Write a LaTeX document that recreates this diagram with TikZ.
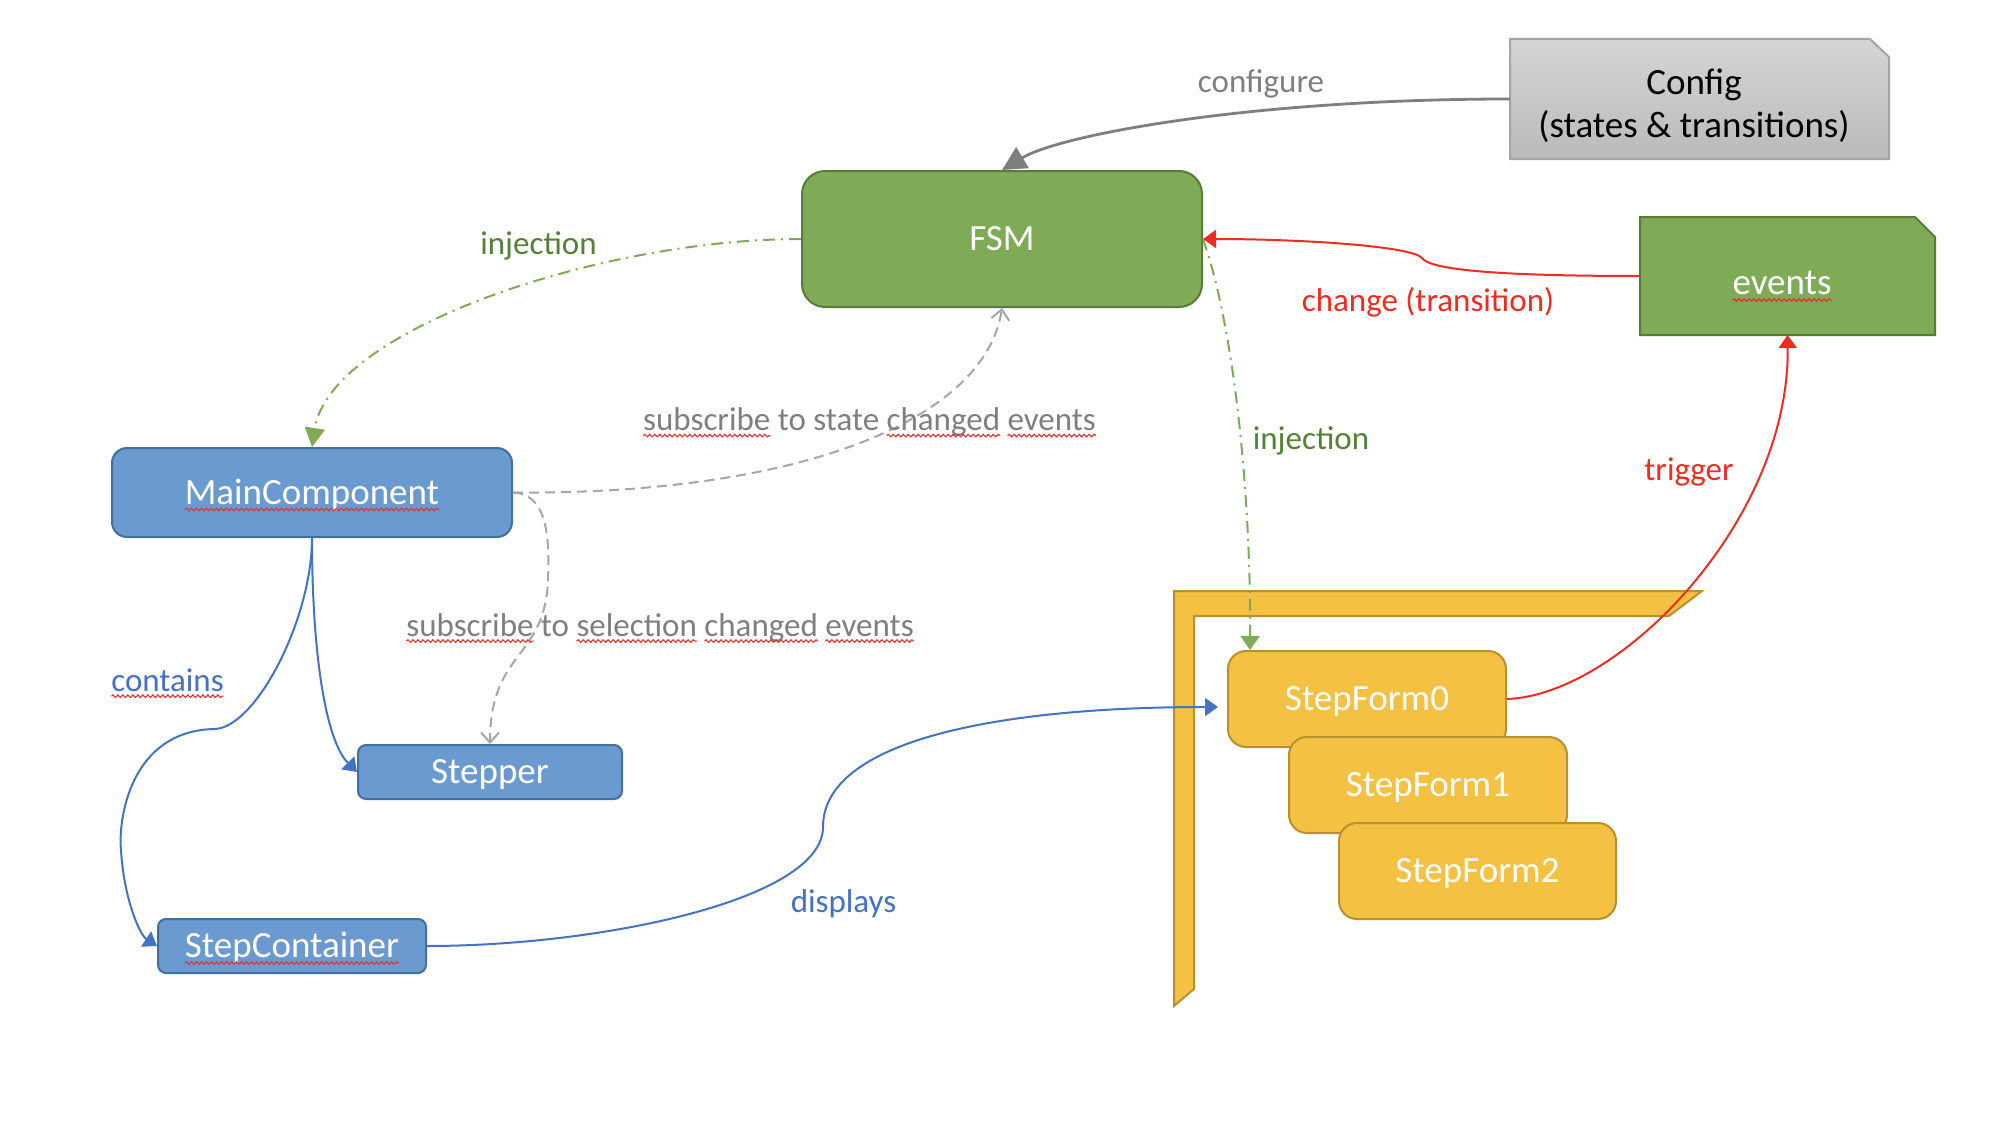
\documentclass[tikz,border=0pt]{standalone}
\usepackage{fontspec}
\setmainfont{Carlito}
\usetikzlibrary{arrows.meta,decorations.pathmorphing}
\definecolor{cgreen}{HTML}{7FAA56}
\definecolor{cgreenb}{HTML}{587D36}
\definecolor{cgreent}{HTML}{548235}
\definecolor{cblue}{HTML}{6A9AD0}
\definecolor{cblueb}{HTML}{44709F}
\definecolor{cbluet}{HTML}{4472C4}
\definecolor{cyel}{HTML}{F5C143}
\definecolor{cyelb}{HTML}{B8902D}
\definecolor{cgrayt}{HTML}{7F7F7F}
\definecolor{cgrayd}{HTML}{A6A6A6}
\definecolor{cfgtop}{HTML}{D5D5D5}
\definecolor{cfgbot}{HTML}{BABABA}
\definecolor{cfgb}{HTML}{A5A5A5}
\definecolor{cred}{HTML}{EE2D20}
\definecolor{csq}{HTML}{E8302A}
\newcommand\boxfont{\fontsize{37}{43}\selectfont}
\newcommand\lblfont{\fontsize{33}{40}\selectfont}
\tikzset{
  sqline/.style={draw=csq, solid, sharp corners, line width=1.1pt, decorate,
    decoration={snake, amplitude=1.3pt, segment length=5pt}},
}
\newcommand\sqw[1]{\tikz[baseline=(sqw.base)]{\node[inner sep=0pt,outer sep=0pt,minimum width=0pt,minimum height=0pt,sharp corners,anchor=base,draw=none,fill=none](sqw){#1};\draw[overlay,sqline]([yshift=-0.15em]sqw.base west)--([yshift=-0.15em]sqw.base east);}}
\begin{document}
\begin{tikzpicture}[x=1pt,y=-1pt,
  gbox/.style={draw=cgreenb, fill=cgreen, line width=2pt, text=white, font=\boxfont, inner sep=0pt, text height=30pt, text depth=7pt},
  bbox/.style={draw=cblueb, fill=cblue, line width=2pt, text=white, font=\boxfont, inner sep=0pt, text height=30pt, text depth=7pt},
  ybox/.style={draw=cyelb, fill=cyel, line width=2pt, text=white, font=\boxfont, inner sep=0pt, text height=30pt, text depth=7pt},
  plainbox/.style={inner sep=0pt, outer sep=0pt},
  lbl/.style={font=\lblfont, inner sep=0pt},
  cfgline/.style={draw=cgrayt, line width=2.8pt, -{Triangle[length=24pt,width=24pt]}},
  injline/.style={draw=cgreen, line width=2pt, dash pattern=on 12pt off 6pt on 2pt off 6pt, -{Triangle[length=14pt,width=19pt]}},
  subline/.style={draw=cgrayd, line width=2pt, dash pattern=on 10pt off 6pt, -{Straight Barb[length=10pt,width=18pt]}},
  blueline/.style={draw=cbluet, line width=2pt, -{Triangle[length=13pt,width=18pt]}},
  redline/.style={draw=cred, line width=2pt, -{Triangle[length=13pt,width=18pt]}},
]
\path[use as bounding box, fill=white] (0,0) rectangle (1998,1124);

% Config (cut corner)
\path[draw=cfgb, line width=2pt, top color=cfgtop, bottom color=cfgbot]
  (1510,39) -- (1870,39) -- (1889,57) -- (1889,159) -- (1510,159) -- cycle;
\node[plainbox, minimum width=379pt, minimum height=120pt] (config) at (1699.5,99) {};
\node[font=\boxfont, align=center, text=black, inner sep=0pt] (configtext) at (1694,106) {Config\\(states \& transitions)};

% events (cut corner)
\path[draw=cgreenb, fill=cgreen, line width=2pt]
  (1640,217) -- (1915,217) -- (1935,237) -- (1935,335) -- (1640,335) -- cycle;
\node[plainbox, minimum width=295pt, minimum height=118pt] (events) at (1787.5,276) {};
\node[font=\boxfont, text=white, inner sep=0pt] (eventstext) at (1782,283) {\sqw{events}};

% FSM
\node[gbox, minimum width=400pt, minimum height=136pt, rounded corners=23pt] (fsm) at (1002,239) {FSM};

% blue components
\node[bbox, minimum width=400pt, minimum height=89pt, rounded corners=15pt] (main) at (312,492.5) {\sqw{MainComponent}};
\node[bbox, minimum width=264pt, minimum height=54pt, rounded corners=8pt] (stepper) at (490,772) {Stepper};
\node[bbox, minimum width=268pt, minimum height=54pt, rounded corners=8pt] (stepcont) at (292,946) {\sqw{StepContainer}};

% yellow bracket
\filldraw[fill=cyel, draw=cyelb, line width=2pt]
  (1174,591) -- (1702,591) -- (1669,616) -- (1194,616) -- (1194,989) -- (1174,1006) -- cycle;

% step forms
\node[ybox, minimum width=278pt, minimum height=96pt, rounded corners=18pt] (sf0) at (1367,699) {StepForm0};
\node[ybox, minimum width=278pt, minimum height=96pt, rounded corners=18pt] (sf1) at (1428,785) {StepForm1};
\node[ybox, minimum width=277pt, minimum height=96pt, rounded corners=18pt] (sf2) at (1477.5,871) {StepForm2};

% connectors
\draw[cfgline] (config.west) .. controls (1250,99) and (1060,135) .. (fsm.north);
\draw[injline, -{Triangle[length=19pt,width=20pt]}] (fsm.west) .. controls (600,239) and (330,330) .. (main.north);
\draw[injline] (fsm.east) .. controls (1235,330) and (1251,500) .. ([xshift=23pt]sf0.north west);
\draw[subline] (main.east) .. controls (800,495) and (985,420) .. (fsm.south);
\draw[subline] (main.east) .. controls (545,494) and (550,530) .. (548,580) .. controls (545,660) and (490,650) .. (stepper.north);
\draw[blueline] (main.south) .. controls (312,620) and (255,729) .. (214,729) .. controls (130,731) and (118,820) .. (121,850) .. controls (124,900) and (140,935) .. (stepcont.west);
\draw[blueline] (main.south) .. controls (312,650) and (325,740) .. (stepper.west);
\draw[blueline] (stepcont.east) .. controls (600,946) and (823,900) .. (823,827) .. controls (823,740) and (1000,707) .. ([shift={(-9pt,-8pt)}]sf0.west);
\draw[redline] (events.west) .. controls (1500,276) and (1430,270) .. (1422,258) .. controls (1412,246) and (1300,239) .. (fsm.east);
\draw[redline] (sf0.east) .. controls (1620,695) and (1790,520) .. (events.south);

% labels
\node[lbl, text=cgrayt] (lconf) at (1261,84) {configure};
\node[lbl, text=cgreent] (linj1) at (538.5,245.5) {injection};
\node[lbl, text=cgreent] (linj2) at (1311,441) {injection};
\node[lbl, text=cred] (lchg) at (1428,302) {change (transition)};
\node[lbl, text=cred] (ltrig) at (1689,472) {trigger};
\node[lbl, text=cgrayt] (lsub1) at (869.5,422) {\sqw{subscribe} to state \sqw{changed} \sqw{events}};
\node[lbl, text=cgrayt] (lsub2) at (660,627.5) {\sqw{subscribe} to \sqw{selection} \sqw{changed} \sqw{events}};
\node[lbl, text=cbluet] (lcont) at (167.5,680) {\sqw{contains}};
\node[lbl, text=cbluet] (ldisp) at (843.5,903.5) {displays};
\end{tikzpicture}
\end{document}
